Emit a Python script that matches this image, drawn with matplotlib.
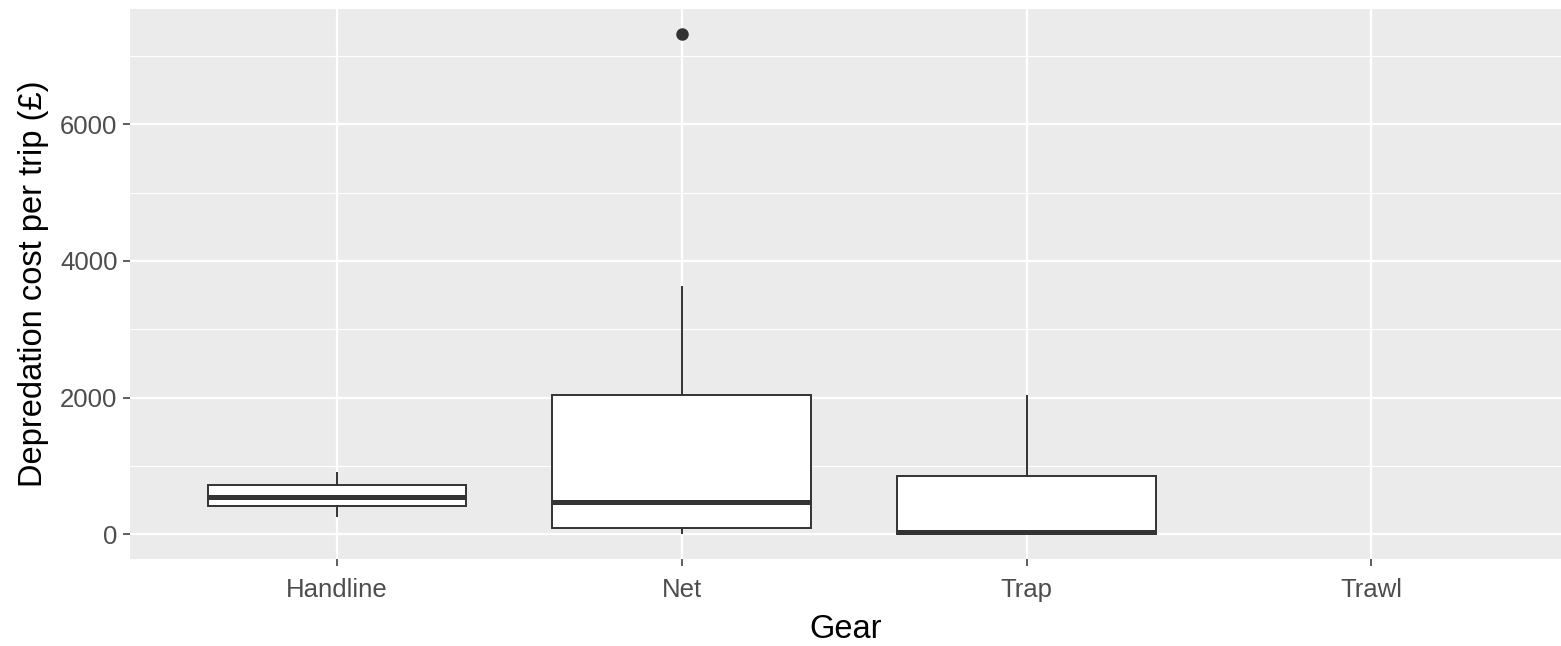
import matplotlib
matplotlib.use("Agg")
import matplotlib.pyplot as plt

# values
gears = ["Handline", "Net", "Trap", "Trawl"]
whislo = [264, 10, 0, None]
q1 = [415, 93, 0, None]
med = [547, 473, 30, None]
q3 = [722, 2037, 855, None]
whishi = [893, 3614, 2022, None]
fliers = [[], [7326], [], []]

plt.rcParams["font.family"] = ["Liberation Sans", "DejaVu Sans"]

fig = plt.figure(figsize=(15.61, 6.46), dpi=100)
ax = fig.add_axes([130 / 1561, 87 / 646, 1431 / 1561, 550 / 646])
ax.set_facecolor("#EBEBEB")

stats = []
pos = []
for i, g in enumerate(gears):
    if med[i] is None:
        continue
    stats.append(dict(label=g, whislo=whislo[i], q1=q1[i], med=med[i],
                      q3=q3[i], whishi=whishi[i], fliers=fliers[i]))
    pos.append(i + 1)

ax.bxp(stats, positions=pos, widths=0.75, patch_artist=True, showcaps=False,
       boxprops=dict(facecolor="white", edgecolor="#333333", linewidth=1.4),
       whiskerprops=dict(color="#333333", linewidth=1.4),
       medianprops=dict(color="#333333", linewidth=3.6, solid_capstyle="butt"),
       flierprops=dict(marker="o", markerfacecolor="#333333",
                       markeredgecolor="#333333", markersize=8),
       zorder=3)

ax.set_xlim(0.4, 4.55)
ax.set_ylim(-366, 7692)
ax.set_xticks(range(1, len(gears) + 1))
ax.set_xticklabels(gears)
ax.set_yticks([0, 2000, 4000, 6000])
ax.set_yticks([1000, 3000, 5000, 7000], minor=True)
ax.grid(True, which="major", color="white", linewidth=1.6, zorder=0)
ax.grid(True, which="minor", axis="y", color="white", linewidth=0.8, zorder=0)
ax.set_axisbelow(True)
for s in ax.spines.values():
    s.set_visible(False)
ax.tick_params(which="major", length=5, width=1.1, color="#333333",
               labelcolor="#4D4D4D", labelsize=18.5, pad=4)
ax.tick_params(axis="x", which="major", pad=9)
ax.tick_params(which="minor", length=0)

ax.set_xlabel("Gear", fontsize=23.5, color="black", labelpad=8)
ax.set_ylabel("Depredation cost per trip (£)", fontsize=23.5, color="black", labelpad=8)

fig.savefig("out.png", dpi=100)
